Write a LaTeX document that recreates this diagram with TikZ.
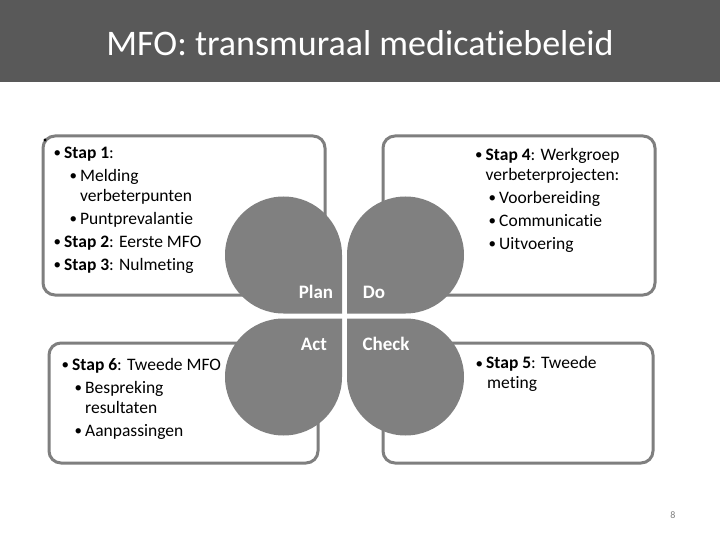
\documentclass[tikz,border=0pt]{standalone}
\usepackage{fontspec}
\setmainfont{Carlito}[Ligatures=NoCommon]
\definecolor{headgray}{HTML}{595959}
\definecolor{leafgray}{HTML}{808080}
\definecolor{linegray}{HTML}{7F7F7F}
\newcommand{\bul}{\makebox[10.5pt][l]{\raisebox{0.8pt}{\fontsize{15}{15}\selectfont•}}}
\begin{document}
\begin{tikzpicture}[x=1pt, y=-1pt,
    box/.style={draw=linegray, line width=3pt, rounded corners=12pt, fill=white},
    leaf/.style={fill=leafgray},
    stepnote/.style={anchor=north west, align=left, inner sep=0pt, font=\fontsize{17.5}{20}\selectfont},
    pdca/.style={anchor=base, text=white, inner sep=0pt, font=\bfseries\fontsize{19}{19}\selectfont}]
  \useasboundingbox (0,0) rectangle (720,540);
  \fill[white] (0,0) rectangle (720,540);

  % 1. titelbalk
  \fill[headgray] (0,0) rectangle (720,82);
  \node[anchor=base, text=white, inner sep=0pt, font=\fontsize{36}{36}\selectfont] (title) at (360,56) {MFO: transmuraal medicatiebeleid};

  % 2. kaders
  \draw[box] (43,136) rectangle (325,295);
  \draw[box] (383,136) rectangle (655,295);
  \draw[box] (49,343) rectangle (318,463);
  \draw[box] (383,343) rectangle (653,463);
  \fill (45,140) circle (1.6);

  % 3. klaverblad
  \foreach \dx/\dy/\sa/\ea in {-1/-1/90/360, 1/-1/90/-180, -1/1/270/0, 1/1/270/540}
    \fill[leaf] ({344.5+2.5*\dx},{316+2.5*\dy}) -- ++({58.5*\dx},0)
      arc[start angle=\sa, end angle=\ea, radius=58.5] -- cycle;

  \node[pdca] (plan) at (316,298) {Plan};
  \node[pdca] (do) at (374,298) {Do};
  \node[pdca] (act) at (314,350) {Act};
  \node[pdca] (check) at (386,350) {Check};

  % 4. stappen
  \node[stepnote] (stepsA) at (53.5,146.5) {\bul\textbf{Stap 1}:\\[3.5pt]
    \hspace*{16pt}\bul Melding\\
    \hspace*{26.5pt}verbeterpunten\\[3pt]
    \hspace*{16pt}\bul Puntprevalantie\\[3pt]
    \bul\textbf{Stap 2}: Eerste MFO\\[3pt]
    \bul\textbf{Stap 3}: Nulmeting};
  \node[stepnote] (stepsB) at (475,148) {\bul\textbf{Stap 4}: Werkgroep\\
    \hspace*{10.5pt}verbeterprojecten:\\[3pt]
    \hspace*{13.5pt}\bul Voorbereiding\\[3pt]
    \hspace*{13.5pt}\bul Communicatie\\[3pt]
    \hspace*{13.5pt}\bul Uitvoering};
  \node[stepnote] (stepsC) at (475.5,356.5) {\bul\textbf{Stap 5}: Tweede\\
    \hspace*{11.5pt}meting};
  \node[stepnote] (stepsD) at (61.5,358) {\bul\textbf{Stap 6}: Tweede MFO\\[3pt]
    \hspace*{13pt}\bul Bespreking\\
    \hspace*{23.5pt}resultaten\\[3pt]
    \hspace*{13pt}\bul Aanpassingen};

  \node[text=leafgray, inner sep=0pt, font=\fontsize{10}{10}\selectfont] (page) at (673,515) {8};
\end{tikzpicture}
\end{document}
